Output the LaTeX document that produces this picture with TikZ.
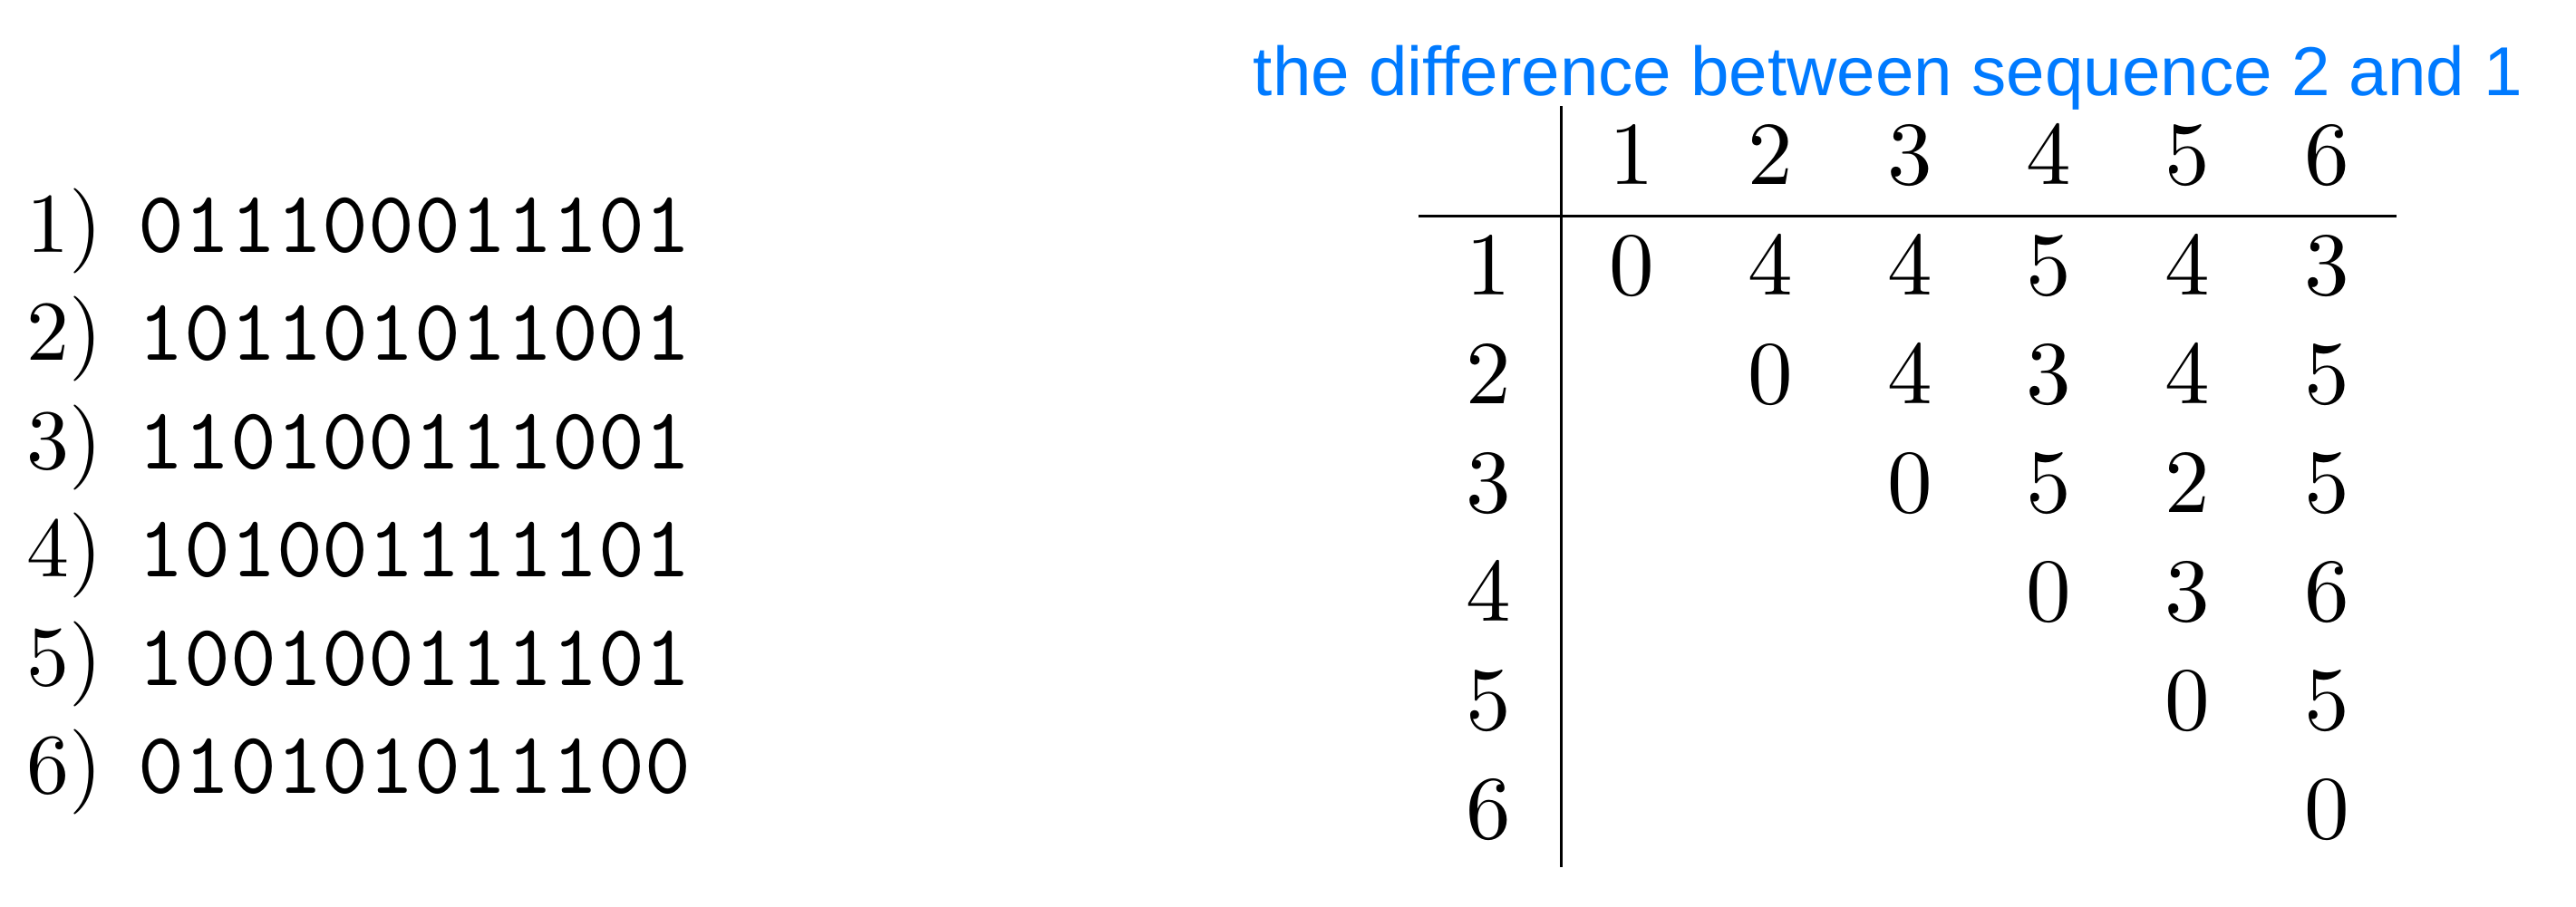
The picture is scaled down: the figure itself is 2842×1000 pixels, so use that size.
\documentclass[tikz,border=0pt]{standalone}
\usepackage{amsmath,amssymb}
\usepackage{fontspec}
\usepackage{tikz}
\newfontfamily\titlefont{Liberation Sans}
\newfontfamily\romanten{lmroman10-regular.otf}
\newfontfamily\monoten{lmmono10-regular.otf}
\newcommand{\bitstring}[1]{{\monoten\fontsize{24.2}{28}\selectfont #1}}
\definecolor{titleblue}{RGB}{0,122,255}

\begin{document}
\begin{tikzpicture}[x=0.25pt,y=0.25pt,yscale=-1,xscale=1,
    seqline/.style={anchor=base west,inner sep=0pt,font=\romanten\fontsize{23.5}{28}\selectfont},
    entry/.style={anchor=base,inner sep=0pt,font=\romanten\fontsize{24.8}{29}\selectfont},
    rule/.style={line width=0.75pt}]
    %set diagram left start at 0, and has height of 1000
    \useasboundingbox (0,0) rectangle (2842,1000);

    % Text Node
    \node (s1) [seqline] at (29,278) {1)\hspace{9.8pt}\bitstring{011100011101}};
    % Text Node
    \node (s2) [seqline] at (29,397.5) {2)\hspace{9.8pt}\bitstring{101101011001}};
    % Text Node
    \node (s3) [seqline] at (29,517) {3)\hspace{9.8pt}\bitstring{110100111001}};
    % Text Node
    \node (s4) [seqline] at (29,636.5) {4)\hspace{9.8pt}\bitstring{101001111101}};
    % Text Node
    \node (s5) [seqline] at (29,756) {5)\hspace{9.8pt}\bitstring{100100111101}};
    % Text Node
    \node (s6) [seqline] at (29,875.5) {6)\hspace{9.8pt}\bitstring{010101011100}};

    % Text Node
    \node (title) [anchor=base west,inner sep=0pt,font=\titlefont\fontsize{19.1}{23}\selectfont,color=titleblue] at (1382,105) {the difference between sequence 2 and 1};

    %Straight Lines
    \coordinate (vtop) at (1722,117);
    \coordinate (vbot) at (1722,957);
    \coordinate (hleft) at (1565,238);
    \coordinate (hright) at (2644,238);
    \draw [rule] (vtop) -- (vbot) ;
    \draw [rule] (hleft) -- (hright) ;

    % Text Node: column heads
    \node (h1) [entry] at (1800,203) {1};
    \node (h2) [entry] at (1953,203) {2};
    \node (h3) [entry] at (2107,203) {3};
    \node (h4) [entry] at (2260,203) {4};
    \node (h5) [entry] at (2413,203) {5};
    \node (h6) [entry] at (2567,203) {6};

    % Text Node: row heads
    \node (r1) [entry] at (1642,325) {1};
    \node (r2) [entry] at (1642,445) {2};
    \node (r3) [entry] at (1642,565) {3};
    \node (r4) [entry] at (1642,685) {4};
    \node (r5) [entry] at (1642,805) {5};
    \node (r6) [entry] at (1642,925) {6};

    % Text Node: row 1
    \node (c11) [entry] at (1800,325) {0};
    \node (c12) [entry] at (1953,325) {4};
    \node (c13) [entry] at (2107,325) {4};
    \node (c14) [entry] at (2260,325) {5};
    \node (c15) [entry] at (2413,325) {4};
    \node (c16) [entry] at (2567,325) {3};
    % Text Node: row 2
    \node (c22) [entry] at (1953,445) {0};
    \node (c23) [entry] at (2107,445) {4};
    \node (c24) [entry] at (2260,445) {3};
    \node (c25) [entry] at (2413,445) {4};
    \node (c26) [entry] at (2567,445) {5};
    % Text Node: row 3
    \node (c33) [entry] at (2107,565) {0};
    \node (c34) [entry] at (2260,565) {5};
    \node (c35) [entry] at (2413,565) {2};
    \node (c36) [entry] at (2567,565) {5};
    % Text Node: row 4
    \node (c44) [entry] at (2260,685) {0};
    \node (c45) [entry] at (2413,685) {3};
    \node (c46) [entry] at (2567,685) {6};
    % Text Node: row 5
    \node (c55) [entry] at (2413,805) {0};
    \node (c56) [entry] at (2567,805) {5};
    % Text Node: row 6
    \node (c66) [entry] at (2567,925) {0};

\end{tikzpicture}
\end{document}
